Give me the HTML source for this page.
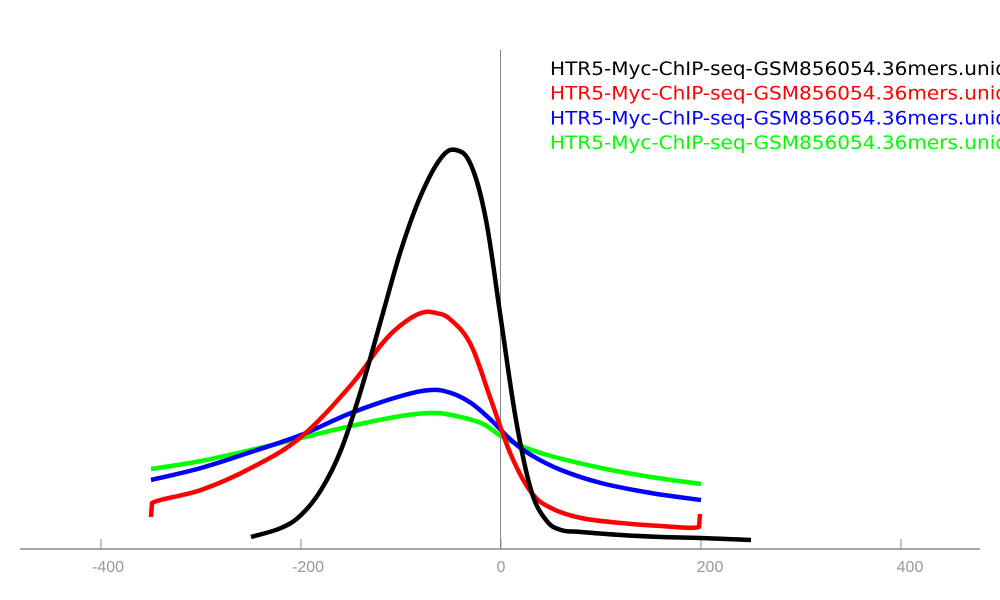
<!DOCTYPE html>
<html><head><meta charset="utf-8"><style>
html,body{margin:0;padding:0;background:#fff;overflow:hidden;}
svg{display:block;font-family:"DejaVu Sans","Liberation Sans",sans-serif;}
</style></head><body>
<svg id="chart" width="1000" height="600"></svg>
<script>
const ticks=[-400,-200,0,200,400];
const blackX=[-250,-220,-200,-180,-160,-140,-120,-100,-80,-60,-45,-30,-15,0,15,30,45,60,80,120,160,200,250];
const blackY=[3,5.25,8.5,14.75,24.75,39.75,57.25,74.75,88.5,97.75,99.75,96,82.25,57.25,32.25,14.75,7.25,4.75,4.25,3.5,3,2.75,2.25];
const redX=[-350,-349,-300,-250,-200,-150,-120,-100,-80,-65,-50,-30,-10,10,30,50,80,120,160,198,199];
const redY=[8,11.5,14.75,20.25,28,41,51,56,59,59,57.25,51,37.25,23.5,14.25,10.25,7.75,6.5,5.75,5.5,8.75];
const blueX=[-350,-300,-250,-200,-150,-100,-70,-50,-30,-10,10,30,60,100,150,200];
const blueY=[17.25,20.25,24.25,28.5,34,38.25,39.75,39,36.5,32.25,27.25,23.5,19.75,16.5,14,12.25];
const greenX=[-350,-300,-250,-200,-150,-100,-70,-50,-20,0,20,50,100,150,200];
const greenY=[20,22,24.75,27.75,30.75,33.25,34,33.5,31.5,28.25,25.75,23.25,20.25,18,16.25];
const legendLabels=["HTR5-Myc-ChIP-seq-GSM856054.36mers.uniq","HTR5-Myc-ChIP-seq-GSM856054.36mers.uniq","HTR5-Myc-ChIP-seq-GSM856054.36mers.uniq","HTR5-Myc-ChIP-seq-GSM856054.36mers.uniq"];
const colors=["#000","#f00","#00f","#0f0"];
const NS="http://www.w3.org/2000/svg";
const svg=document.getElementById('chart');
const sx=v=>501+v*1.0;
const sy=v=>549-v*4;
function mk(t,a){const e=document.createElementNS(NS,t);for(const k in a)e.setAttribute(k,a[k]);svg.appendChild(e);return e;}
function smooth(p){
 let d='M'+p[0][0]+','+p[0][1];
 for(let i=0;i<p.length-1;i++){
  const p0=p[Math.max(0,i-1)],p1=p[i],p2=p[i+1],p3=p[Math.min(p.length-1,i+2)];
  const t=(p2[0]-p1[0]<3)?0:0.18;
  const c1=[p1[0]+(p2[0]-p0[0])*t,p1[1]+(p2[1]-p0[1])*t];
  const c2=[p2[0]-(p3[0]-p1[0])*t,p2[1]-(p3[1]-p1[1])*t];
  d+=' C'+c1[0]+','+c1[1]+' '+c2[0]+','+c2[1]+' '+p2[0]+','+p2[1];
 }
 return d;
}
let e=mk('line',{x1:20,x2:980,y1:549,y2:549,stroke:'#888','stroke-width':1.5});


e=mk('line',{x1:500.5,x2:500.5,y1:50,y2:549,stroke:'#888','stroke-width':1});


ticks.forEach(t=>{
 let l=mk('line',{x1:sx(t),x2:sx(t),y1:539,y2:549,stroke:'#888','stroke-width':1});
 
 
 let tx=mk('text',{x:sx(t)+(t>0?9:0)+(t<0?7:0),y:572,'text-anchor':'middle','font-size':16,fill:'#999','font-family':'Liberation Sans, sans-serif'});
 tx.textContent=String(t);
 
 
});
const series=[[blackX,blackY],[redX,redY],[blueX,blueY],[greenX,greenY]];
const names=['series-black','series-red','series-blue','series-green'];
[3,2,1,0].forEach(i=>{
 const [xs,ys]=series[i];
 const pts=xs.map((x,j)=>[sx(x),sy(ys[j])]);
 let p=mk('path',{d:smooth(pts),fill:'none',stroke:colors[i],'stroke-width':4.5,'stroke-linejoin':'round','stroke-linecap':'butt'});
 
 
});
legendLabels.forEach((s,i)=>{
 let t=mk('text',{x:550,y:75+i*24.7,'font-size':19,fill:colors[i],textLength:458,lengthAdjust:'spacingAndGlyphs'});
 t.textContent=s;
 
 
});
</script>
</body></html>
